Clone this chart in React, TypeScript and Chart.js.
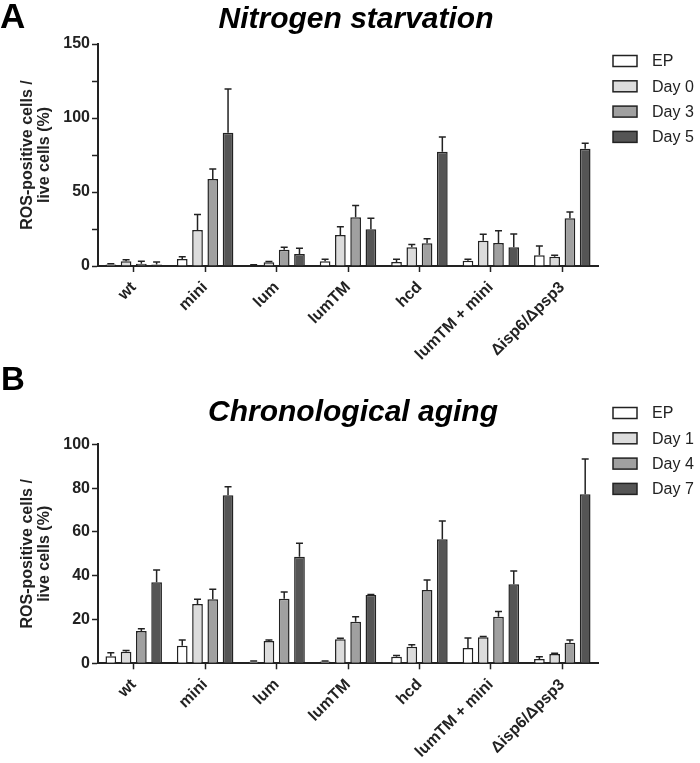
import React, { useEffect, useRef } from "react";
import { Chart, registerables } from "chart.js";

Chart.register(...registerables);

const categories = ["wt", "mini", "lum", "lumTM", "hcd", "lumTM + mini", "Δisp6/Δpsp3"];

// Panel A: Nitrogen starvation
const labelsN = ["EP", "Day 0", "Day 3", "Day 5"];
const epN = [1, 4.7, 0.5, 3.2, 2.7, 3.6, 7.2];
const epNErr = [0.5, 1.6, 0.3, 1.4, 1.8, 0.9, 6.3];
const day0N = [3.2, 24.3, 2.5, 21, 12.6, 17.1, 6.3];
const day0NErr = [1.1, 10.5, 0.5, 5.6, 2, 4.3, 0.9];
const day3N = [1.5, 58.8, 11, 32.9, 15.3, 15.5, 32.2];
const day3NErr = [1.7, 6.7, 1.7, 7.9, 3.1, 8.4, 4.3];
const day5N = [1, 90, 8.1, 24.8, 77.2, 12.6, 79.3];
const day5NErr = [1.7, 29.6, 3.9, 7.4, 10, 9, 3.6];

// Panel B: Chronological aging
const labelsC = ["EP", "Day 1", "Day 4", "Day 7"];
const epC = [3.2, 8, 0.7, 0.8, 3, 7, 2];
const epCErr = [1.6, 2.6, 0.3, 0.3, 0.6, 4.5, 1];
const day1C = [5.3, 27.1, 10.2, 11, 7.6, 11.9, 4.2];
const day1CErr = [0.5, 2.1, 0.4, 0.4, 0.9, 0.3, 0.4];
const day4C = [14.7, 29.2, 29.5, 19, 33.5, 21.3, 9.4];
const day4CErr = [1.1, 4.6, 3.1, 2.3, 4.5, 2.3, 1.2];
const day7C = [37, 76.7, 48.7, 31.2, 56.6, 36.1, 77.2];
const day7CErr = [5.6, 3.9, 6.1, 0.2, 8.4, 6.1, 16.1];

const fills = ["#ffffff", "#dcdcdc", "#a0a0a0", "#555555"];
const INK = "#222222";
const FONT = "'Liberation Sans', Arial, Helvetica, sans-serif";

const errorBarPlugin = {
  id: "errorBars",
  afterDatasetsDraw(chart: any) {
    const ctx = chart.ctx;
    const yScale = chart.scales.y;
    ctx.save();
    ctx.strokeStyle = INK;
    ctx.lineWidth = 1.5;
    chart.data.datasets.forEach((ds: any, i: number) => {
      const meta = chart.getDatasetMeta(i);
      meta.data.forEach((el: any, j: number) => {
        const v = ds.data[j];
        const e = ds.errors[j];
        const yTop = yScale.getPixelForValue(v);
        const yErr = yScale.getPixelForValue(v + e);
        ctx.beginPath();
        ctx.moveTo(el.x, yTop);
        ctx.lineTo(el.x, yErr);
        ctx.moveTo(el.x - 3.5, yErr);
        ctx.lineTo(el.x + 3.5, yErr);
        ctx.stroke();
      });
    });
    ctx.restore();
  },
};

const decorPlugin = {
  id: "decor",
  afterDraw(chart: any, _args: any, opts: any) {
    const ctx = chart.ctx;
    ctx.save();
    // panel letter
    ctx.fillStyle = "#000";
    ctx.textAlign = "left";
    ctx.textBaseline = "alphabetic";
    ctx.font = `bold ${opts.letterSize}px ${FONT}`;
    ctx.fillText(opts.letter, opts.letterX, opts.letterY);
    // title
    ctx.font = `italic bold 30px ${FONT}`;
    ctx.textAlign = "center";
    ctx.fillText(opts.title, opts.titleX, opts.titleY);
    // legend
    ctx.font = `16px ${FONT}`;
    ctx.textAlign = "left";
    ctx.textBaseline = "middle";
    chart.data.datasets.forEach((ds: any, i: number) => {
      const y = opts.legendY + i * opts.legendStep;
      ctx.fillStyle = ds.backgroundColor;
      ctx.fillRect(opts.legendX, y - 5.5, 24, 11);
      ctx.strokeStyle = INK;
      ctx.lineWidth = 1.5;
      ctx.strokeRect(opts.legendX, y - 5.5, 24, 11);
      ctx.fillStyle = INK;
      ctx.fillText(ds.label, opts.legendX + 39, y + 1);
    });
    ctx.restore();
  },
};

function makeConfig(p: any) {
  return {
    type: "bar",
    data: {
      labels: categories,
      datasets: p.series.map((s: number[], i: number) => ({
        label: p.labels[i],
        data: s,
        errors: p.errs[i],
        backgroundColor: fills[i],
        borderColor: INK,
        borderWidth: 1.5,
        categoryPercentage: 0.855,
        barPercentage: 0.7,
      })),
    },
    options: {
      animation: false,
      responsive: false,
      maintainAspectRatio: false,
      devicePixelRatio: 1,
      layout: { padding: { top: p.top, right: 102, left: 0, bottom: 0 } },
      plugins: {
        legend: { display: false },
        tooltip: { enabled: false },
        title: { display: false },
        decor: p.decor,
      },
      scales: {
        x: {
          type: "category",
          afterFit: (s: any) => {
            s.height = p.height - p.bottom;
          },
          grid: {
            offset: false,
            drawOnChartArea: false,
            tickLength: 6,
            tickColor: INK,
            tickWidth: 1.5,
          },
          border: { color: INK, width: 2 },
          ticks: {
            color: INK,
            font: { family: FONT, size: 16, weight: "bold" },
            minRotation: 45,
            maxRotation: 45,
            autoSkip: false,
            padding: 6,
          },
        },
        y: {
          min: 0,
          max: p.max,
          afterFit: (s: any) => {
            s.width = 98;
          },
          grid: {
            drawOnChartArea: false,
            tickLength: 6,
            tickColor: INK,
            tickWidth: 1.5,
          },
          border: { color: INK, width: 2 },
          ticks: {
            stepSize: p.minor,
            color: INK,
            padding: 2,
            font: { family: FONT, size: 16, weight: "bold" },
            callback: (v: number) => (v % p.major === 0 ? String(v) : ""),
          },
          title: {
            display: true,
            text: ["ROS-positive cells /", "live cells (%)"],
            color: INK,
            font: { family: FONT, size: 16, weight: "bold", lineHeight: 1.06 },
            padding: { top: 19, bottom: 0 },
          },
        },
      },
    },
    plugins: [errorBarPlugin, decorPlugin],
  };
}

const H_A = 360;
const H_B = 403;

export default function App() {
  const refA = useRef<HTMLCanvasElement>(null);
  const refB = useRef<HTMLCanvasElement>(null);

  useEffect(() => {
    const chartA = new Chart(
      refA.current as HTMLCanvasElement,
      makeConfig({
        series: [epN, day0N, day3N, day5N],
        errs: [epNErr, day0NErr, day3NErr, day5NErr],
        labels: labelsN,
        max: 150,
        minor: 25,
        major: 50,
        top: 44,
        bottom: 266,
        height: H_A,
        decor: {
          letter: "A",
          letterSize: 35,
          letterX: 0,
          letterY: 28,
          title: "Nitrogen starvation",
          titleX: 356,
          titleY: 28,
          legendX: 613,
          legendY: 61,
          legendStep: 25.3,
        },
      }) as any
    );
    const chartB = new Chart(
      refB.current as HTMLCanvasElement,
      makeConfig({
        series: [epC, day1C, day4C, day7C],
        errs: [epCErr, day1CErr, day4CErr, day7CErr],
        labels: labelsC,
        max: 100,
        minor: 10,
        major: 20,
        top: 84.3,
        bottom: 303.3,
        height: H_B,
        decor: {
          letter: "B",
          letterSize: 33,
          letterX: 1,
          letterY: 30,
          title: "Chronological aging",
          titleX: 353,
          titleY: 61,
          legendX: 613,
          legendY: 53,
          legendStep: 25.3,
        },
      }) as any
    );
    return () => {
      chartA.destroy();
      chartB.destroy();
    };
  }, []);

  return (
    <div style={{ position: "absolute", left: 0, top: 0, width: 700, height: 763, background: "#fff" }}>
      <canvas ref={refA} width={700} height={H_A} style={{ position: "absolute", left: 0, top: 0, display: "block" }} />
      <canvas ref={refB} width={700} height={H_B} style={{ position: "absolute", left: 0, top: H_A, display: "block" }} />
    </div>
  );
}
